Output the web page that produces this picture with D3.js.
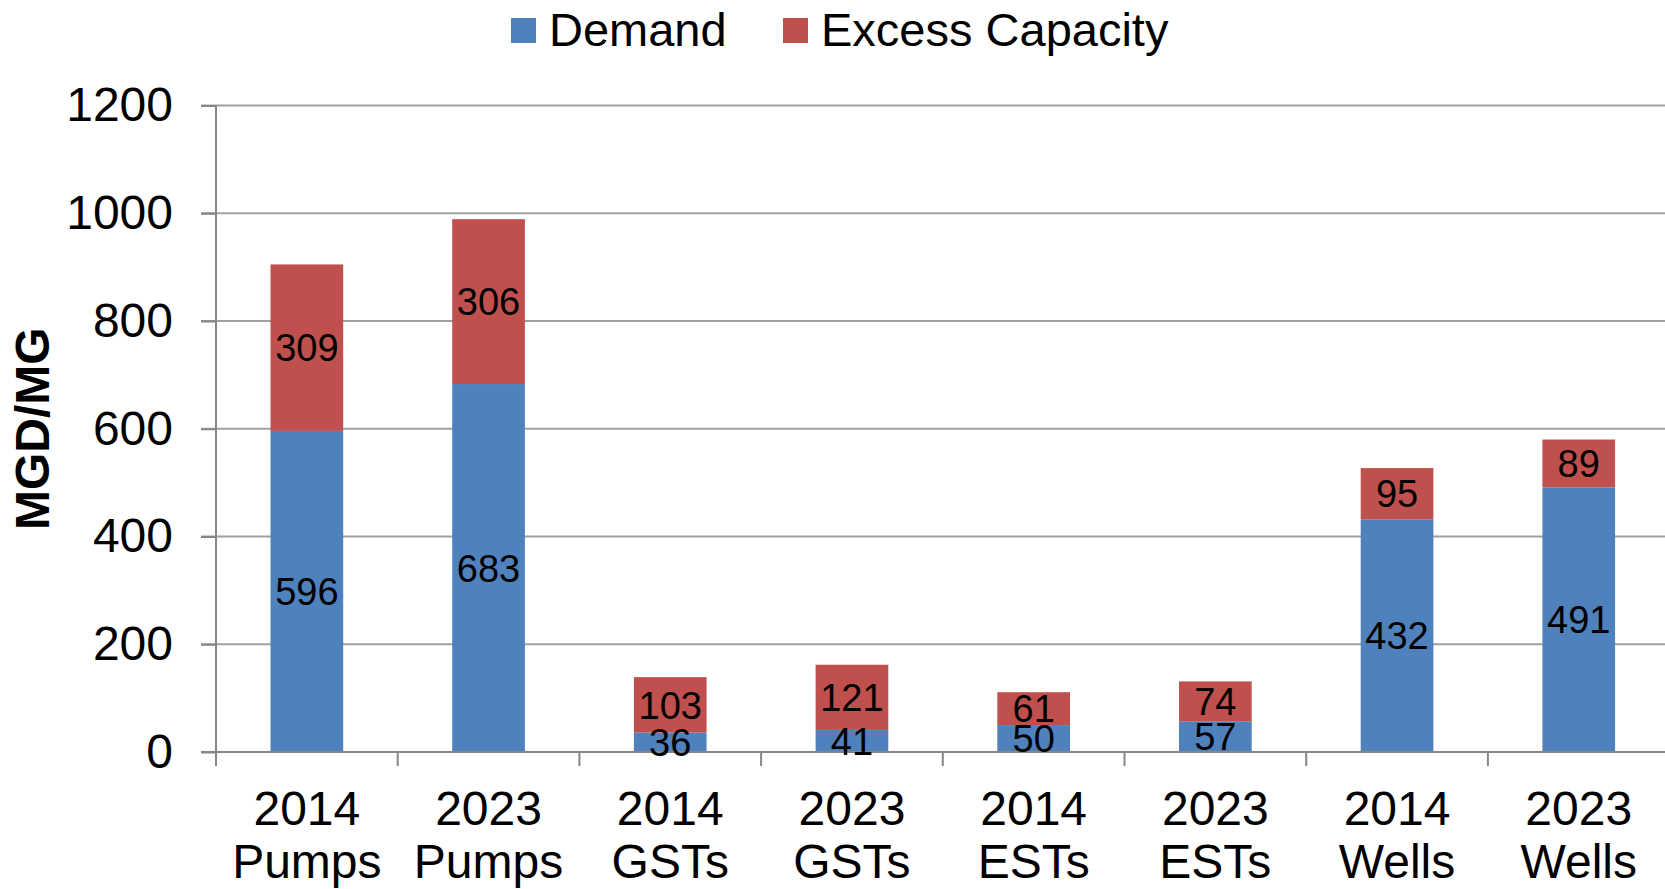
<!DOCTYPE html>
<html>
<head>
<meta charset="utf-8">
<script src="https://cdn.jsdelivr.net/npm/d3@7"></script>
<style>
  html, body { margin: 0; padding: 0; background: #fff; }
  svg { display: block; font-family: "Liberation Sans", Arial, sans-serif; }
</style>
</head>
<body>
<svg id="chart" width="1665" height="889"></svg>
<script>
// Capacity vs demand by asset type and year
const years = ["2014", "2023", "2014", "2023", "2014", "2023", "2014", "2023"];
const assets = ["Pumps", "Pumps", "GSTs", "GSTs", "ESTs", "ESTs", "Wells", "Wells"];
const demand = [596, 683, 36, 41, 50, 57, 432, 491];
const excess = [309, 306, 103, 121, 61, 74, 95, 89];
const yTicks = [0, 200, 400, 600, 800, 1000, 1200];
const seriesNames = ["Demand", "Excess Capacity"];
const seriesColors = ["#4F81BD", "#C0504D"];

const svg = d3.select("#chart");
const plot = { left: 216, right: 1669.6, top: 105.5, bottom: 752 };

const keys = years.map((y, i) => i);
const rows = keys.map(i => ({ key: i, Demand: demand[i], "Excess Capacity": excess[i] }));

const x = d3.scaleBand().domain(keys).range([plot.left, plot.right]).paddingInner(0).paddingOuter(0);
const y = d3.scaleLinear().domain([0, 1200]).range([plot.bottom, plot.top]);

const barW = x.bandwidth() * 0.4;

// horizontal gridlines
svg.append("g")
  .selectAll("line")
  .data(yTicks.filter(d => d > 0))
  .join("line")
  .attr("x1", plot.left - 15).attr("x2", 1665)
  .attr("y1", d => y(d)).attr("y2", d => y(d))
  .attr("stroke", "#A0A0A0").attr("stroke-width", 2);

// y axis with labels
const yAxis = svg.append("g")
  .attr("transform", `translate(${plot.left},0)`)
  .call(d3.axisLeft(y).tickValues(yTicks).tickSize(15).tickPadding(28).tickFormat(d3.format("d")));
yAxis.select(".domain").remove();
yAxis.selectAll(".tick line").attr("stroke", "#868686").attr("stroke-width", 2);
yAxis.selectAll(".tick text")
  .attr("fill", "#000").attr("font-size", 48)
  .attr("font-family", "'Liberation Sans', Arial, sans-serif");

// stacked bars
const stack = d3.stack().keys(seriesNames)(rows);
const color = d3.scaleOrdinal().domain(seriesNames).range(seriesColors);

svg.append("g").selectAll("g")
  .data(stack)
  .join("g")
  .attr("fill", d => color(d.key))
  .selectAll("rect")
  .data(d => d)
  .join("rect")
  .attr("x", d => x(d.data.key) + (x.bandwidth() - barW) / 2)
  .attr("width", barW)
  .attr("y", d => y(d[1]))
  .attr("height", d => y(d[0]) - y(d[1]));

// x axis line and category boundary ticks
const axisG = svg.append("g");
axisG.append("line")
  .attr("x1", plot.left - 15).attr("x2", 1665)
  .attr("y1", plot.bottom).attr("y2", plot.bottom)
  .attr("stroke", "#868686").attr("stroke-width", 2);
axisG.append("line")
  .attr("x1", plot.left).attr("x2", plot.left)
  .attr("y1", plot.top).attr("y2", plot.bottom + 14)
  .attr("stroke", "#868686").attr("stroke-width", 2);
axisG.selectAll("line.tick")
  .data(keys.slice(1))
  .join("line")
  .attr("class", "tick")
  .attr("x1", d => x(d)).attr("x2", d => x(d))
  .attr("y1", plot.bottom).attr("y2", plot.bottom + 14)
  .attr("stroke", "#868686").attr("stroke-width", 2);

// value labels centred in each segment, drawn above the axis
svg.append("g").selectAll("g")
  .data(stack)
  .join("g")
  .selectAll("text")
  .data(d => d.map(s => ({ s, key: d.key })))
  .join("text")
  .attr("x", d => x(d.s.data.key) + x.bandwidth() / 2)
  .attr("y", d => y((d.s[0] + d.s[1]) / 2))
  .attr("dy", "0.36em")
  .attr("text-anchor", "middle")
  .attr("fill", "#000")
  .attr("font-size", 38)
  .text(d => d.s.data[d.key]);

// two-line category labels
const xl = axisG.selectAll("text.cat")
  .data(keys)
  .join("text")
  .attr("class", "cat")
  .attr("text-anchor", "middle")
  .attr("font-size", 48)
  .attr("fill", "#000");
xl.append("tspan")
  .attr("x", d => x(d) + x.bandwidth() / 2)
  .attr("y", 825)
  .text(d => years[d]);
xl.append("tspan")
  .attr("x", d => x(d) + x.bandwidth() / 2)
  .attr("y", 878)
  .text(d => assets[d]);

// y axis title
svg.append("text")
  .attr("transform", `translate(32,${(plot.top + plot.bottom) / 2}) rotate(-90)`)
  .attr("text-anchor", "middle")
  .attr("dominant-baseline", "central")
  .attr("font-size", 48)
  .attr("font-weight", "bold")
  .attr("fill", "#000")
  .text("MGD/MG");

// legend
const legendX = [511, 783];
const legend = svg.append("g").selectAll("g")
  .data(seriesNames)
  .join("g")
  .attr("transform", (d, i) => `translate(${legendX[i]},0)`);
legend.append("rect")
  .attr("x", 0).attr("y", 18)
  .attr("width", 25).attr("height", 25)
  .attr("fill", d => color(d));
legend.append("text")
  .attr("x", 38).attr("y", 46)
  .attr("font-size", 47)
  .attr("fill", "#000")
  .text(d => d);
</script>
</body>
</html>
